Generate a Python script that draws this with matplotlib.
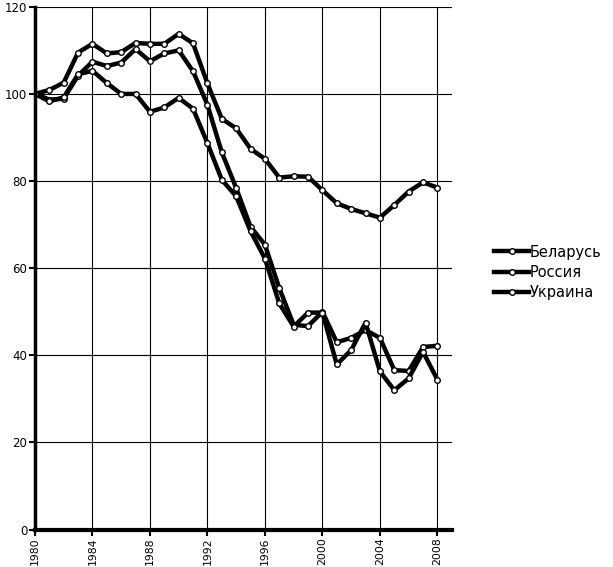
import numpy as np
import matplotlib.pyplot as plt

# ==========================================
# DATA (index, 1980 = 100)
# ==========================================
years = list(range(1980, 2009))

belarus = [100, 100.9, 102.6, 109.5, 111.5, 109.3, 109.6, 111.7, 111.5, 111.5,
           113.8, 111.6, 102.4, 94.3, 92.1, 87.4, 85.1, 80.8, 81.1, 81.0,
           77.9, 74.9, 73.6, 72.6, 71.6, 74.5, 77.6, 79.7, 78.5]

russia = [100, 98.7, 98.9, 104.2, 107.4, 106.4, 107.2, 110.3, 107.5, 109.3,
          110.0, 105.2, 97.5, 86.6, 78.4, 69.5, 65.4, 55.4, 47.0, 46.7,
          50.0, 43.0, 44.0, 45.8, 44.0, 36.6, 36.4, 41.9, 42.2]

ukraine = [100, 98.3, 99.2, 104.5, 105.3, 102.5, 100.0, 100.0, 95.9, 96.9,
           99.1, 96.6, 88.7, 80.3, 76.5, 68.5, 62.2, 51.9, 46.6, 49.8,
           49.8, 37.9, 41.2, 47.5, 36.3, 32.0, 34.7, 40.8, 34.4]

labels = ['Беларусь', 'Россия', 'Украина']
x_ticks = list(range(1980, 2009, 4))
y_ticks = list(range(0, 121, 20))

# ==========================================
# PLOT
# ==========================================
fig = plt.figure(figsize=(6.13, 5.67), dpi=100)
ax = fig.add_axes([0.057, 0.066, 0.68, 0.922])

style = dict(color='black', linewidth=3.2, marker='o', markersize=4.0,
             markerfacecolor='white', markeredgecolor='black', markeredgewidth=1.0)

for series, name in zip([belarus, russia, ukraine], labels):
    ax.plot(years, series, label=name, **style)

ax.set_xlim(1980, 2009)
ax.set_ylim(0, 120)
ax.set_xticks(x_ticks)
ax.set_yticks(y_ticks)
ax.set_xticklabels([str(y) for y in x_ticks], rotation=90, fontsize=7.8)
ax.set_yticklabels([str(v) for v in y_ticks], fontsize=8.5)

ax.grid(True, color='black', linewidth=0.8)
ax.set_axisbelow(True)

for side in ['top', 'right']:
    ax.spines[side].set_visible(False)
ax.spines['left'].set_linewidth(2.5)
ax.spines['bottom'].set_linewidth(3.0)
ax.tick_params(axis='both', length=4, width=1.5, color='black', pad=1.5)

ax.legend(loc='center left', bbox_to_anchor=(0.785, 0.520), bbox_transform=fig.transFigure,
          frameon=False, prop={'size': 10.5}, numpoints=1, handlelength=2.4,
          handletextpad=0.05, labelspacing=0.35)

plt.savefig('out.png', dpi=100)
